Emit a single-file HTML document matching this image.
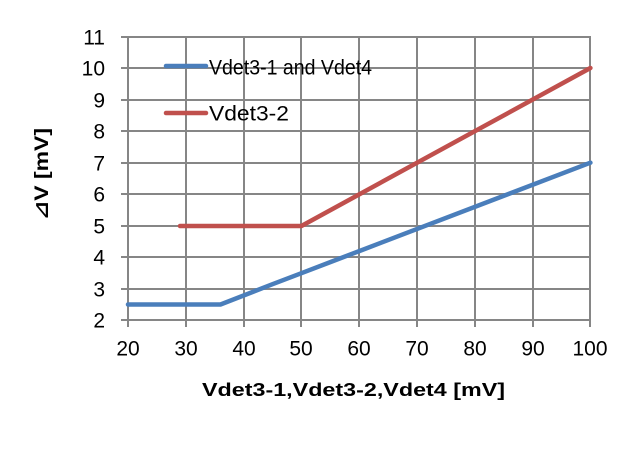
<!DOCTYPE html>
<html>
<head>
<meta charset="utf-8">
<style>
  html, body { margin:0; padding:0; background:#fff; }
  svg { display:block; }
  text { font-family: "Liberation Sans", "DejaVu Sans", sans-serif; fill:#000; }
</style>
</head>
<body>
<svg width="640" height="463" viewBox="0 0 640 463" xmlns="http://www.w3.org/2000/svg">
  <rect x="0" y="0" width="640" height="463" fill="#fff"/>
  <!-- grid -->
  <g stroke="#868686" stroke-width="2" fill="none">
    <line x1="121" y1="37" x2="591" y2="37"/>
    <line x1="121" y1="68" x2="591" y2="68"/>
    <line x1="121" y1="100" x2="591" y2="100"/>
    <line x1="121" y1="131" x2="591" y2="131"/>
    <line x1="121" y1="163" x2="591" y2="163"/>
    <line x1="121" y1="194" x2="591" y2="194"/>
    <line x1="121" y1="226" x2="591" y2="226"/>
    <line x1="121" y1="257" x2="591" y2="257"/>
    <line x1="121" y1="289" x2="591" y2="289"/>
    <line x1="121" y1="320" x2="591" y2="320"/>
    <line x1="128" y1="36" x2="128" y2="327"/>
    <line x1="186" y1="36" x2="186" y2="327"/>
    <line x1="244" y1="36" x2="244" y2="327"/>
    <line x1="301" y1="36" x2="301" y2="327"/>
    <line x1="359" y1="36" x2="359" y2="327"/>
    <line x1="417" y1="36" x2="417" y2="327"/>
    <line x1="475" y1="36" x2="475" y2="327"/>
    <line x1="533" y1="36" x2="533" y2="327"/>
    <line x1="590" y1="36" x2="590" y2="327"/>
  </g>
  <!-- y tick labels -->
  <g font-size="21" text-anchor="end">
    <text x="105" y="44.5">11</text>
    <text x="105" y="75.5">10</text>
    <text x="105" y="107.5">9</text>
    <text x="105" y="138.5">8</text>
    <text x="105" y="170.5">7</text>
    <text x="105" y="201.5">6</text>
    <text x="105" y="233.5">5</text>
    <text x="105" y="264.5">4</text>
    <text x="105" y="296.5">3</text>
    <text x="105" y="327.5">2</text>
  </g>
  <!-- x tick labels -->
  <g font-size="21" text-anchor="middle">
    <text x="128" y="355.5">20</text>
    <text x="186" y="355.5">30</text>
    <text x="244" y="355.5">40</text>
    <text x="301" y="355.5">50</text>
    <text x="359" y="355.5">60</text>
    <text x="417" y="355.5">70</text>
    <text x="475" y="355.5">80</text>
    <text x="533" y="355.5">90</text>
    <text x="590" y="355.5">100</text>
  </g>
  <!-- series -->
  <g fill="none" stroke-width="4.5" stroke-linejoin="round" stroke-linecap="round">
    <polyline stroke="#4a7ebb" points="128,304.5 220.5,304.5 272.5,284.2 301.4,273.2 330.3,262.1 359.2,251.1 590.4,162.7"/>
    <polyline stroke="#c0504d" points="180,226 301.4,226 590.4,68"/>
  </g>
  <!-- legend -->
  <line x1="166" y1="66" x2="206" y2="66" stroke="#4a7ebb" stroke-width="4.5" stroke-linecap="round"/>
  <line x1="166" y1="113" x2="206" y2="113" stroke="#c0504d" stroke-width="4.5" stroke-linecap="round"/>
  <text x="209" y="74.5" font-size="21" textLength="163" lengthAdjust="spacingAndGlyphs">Vdet3-1 and Vdet4</text>
  <text x="209" y="120.5" font-size="21" textLength="80" lengthAdjust="spacingAndGlyphs">Vdet3-2</text>
  <!-- axis titles -->
  <text x="202" y="396" font-size="18" font-weight="bold" font-family="DejaVu Sans, Liberation Sans, sans-serif" textLength="303" lengthAdjust="spacingAndGlyphs">Vdet3-1,Vdet3-2,Vdet4 [mV]</text>
  <text transform="translate(48,174) rotate(-90)" text-anchor="middle" font-size="19" font-weight="bold" font-family="DejaVu Sans, Liberation Sans, sans-serif" textLength="92" lengthAdjust="spacingAndGlyphs">⊿V [mV]</text>
</svg>
</body>
</html>
